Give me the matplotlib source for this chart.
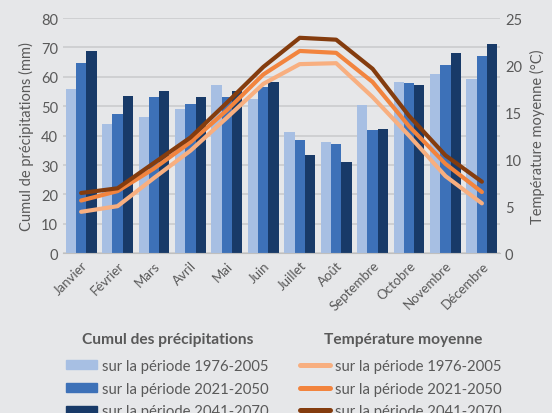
import numpy as np
import matplotlib.pyplot as plt
from matplotlib.patches import Patch
from matplotlib.lines import Line2D

mois = ["Janvier", "Février", "Mars", "Avril", "Mai", "Juin", "Juillet",
        "Août", "Septembre", "Octobre", "Novembre", "Décembre"]

# cumul des précipitations (mm)
precip_1976 = [55.7, 43.8, 46.5, 49.1, 57.3, 52.4, 41.4, 37.8, 50.4, 58.1, 60.9, 59.3]
precip_2021 = [64.7, 47.2, 53.1, 50.6, 53.3, 56.7, 38.5, 37.2, 41.9, 57.8, 63.9, 67.0]
precip_2041 = [68.9, 53.4, 55.3, 53.2, 55.1, 58.4, 33.5, 30.9, 42.2, 57.3, 68.0, 71.3]

# température moyenne (°C)
temp_1976 = [4.4, 5.0, 8.0, 10.9, 14.4, 18.0, 20.1, 20.2, 16.6, 12.5, 8.2, 5.3]
temp_2021 = [5.6, 6.6, 9.0, 11.8, 15.2, 19.0, 21.5, 21.3, 18.2, 13.5, 9.5, 6.5]
temp_2041 = [6.4, 6.9, 9.6, 12.3, 16.0, 19.8, 22.9, 22.7, 19.6, 14.6, 10.4, 7.6]

periodes = ["sur la période 1976-2005", "sur la période 2021-2050", "sur la période 2041-2070"]
bleus = ["#A7BFE3", "#3D71B8", "#183A68"]
oranges = ["#F8AF80", "#F2843E", "#843C0E"]

bg = "#E6E7E9"
gris = "#595959"
plt.rcParams["font.family"] = ["Lato", "DejaVu Sans"]

fig = plt.figure(figsize=(5.52, 4.14), dpi=100, facecolor=bg)
ax = fig.add_axes([0.114, 0.386, 0.792, 0.568])
ax.set_facecolor(bg)

x = np.arange(len(mois))
w = 0.283
for i, vals in enumerate([precip_1976, precip_2021, precip_2041]):
    ax.bar(x + (i - 1) * w, vals, width=w, color=bleus[i], zorder=2)

ax.set_xlim(-0.5, 11.5)
ax.set_ylim(0, 80)
ax.set_yticks(range(0, 81, 10))
ax.grid(axis="y", color="#CBCCCE", linewidth=1.2, zorder=0)
for s in ["top", "right", "left"]:
    ax.spines[s].set_visible(False)
ax.spines["bottom"].set_color("#BFBFBF")
ax.tick_params(length=0, labelsize=10.5, colors=gris)
ax.set_xticks(x)
ax.set_xticklabels(mois, rotation=45, ha="right", rotation_mode="anchor", fontsize=9.5)
ax.tick_params(axis="x", pad=4)
ax.set_ylabel("Cumul de précipitations (mm)", fontsize=10.5, color=gris, labelpad=5)

ax2 = ax.twinx()
for i, vals in enumerate([temp_1976, temp_2021, temp_2041]):
    ax2.plot(x, vals, color=oranges[i], linewidth=3, solid_capstyle="round", zorder=3)
ax2.set_ylim(0, 25)
ax2.set_yticks(range(0, 26, 5))
for s in ax2.spines.values():
    s.set_visible(False)
ax2.tick_params(length=0, labelsize=10.5, colors=gris)
ax2.set_ylabel("Température moyenne (°C)", fontsize=10.5, color=gris, labelpad=6)

# titres des légendes
fig.text(0.3043, 0.179, "Cumul des précipitations", ha="center", va="center",
         fontsize=11.2, fontweight="bold", color=gris)
fig.text(0.731, 0.179, "Température moyenne", ha="center", va="center",
         fontsize=11.2, fontweight="bold", color=gris)

# légendes (la dernière ligne touche le bord, comme dans l'original)
h1 = [Patch(color=c) for c in bleus]
h2 = [Line2D([], [], color=c, linewidth=3.6, solid_capstyle="round") for c in oranges]
leg_opts = dict(loc="upper left", frameon=False, fontsize=10.75, labelcolor=gris,
                borderpad=0, borderaxespad=0, handletextpad=0.3, labelspacing=0.58)
fig.legend(h1, periodes, bbox_to_anchor=(0.1196, 0.130), handlelength=2.08,
           handleheight=0.55, **leg_opts)
fig.legend(h2, periodes, bbox_to_anchor=(0.543, 0.130), handlelength=2.05, **leg_opts)

fig.savefig("out.png", dpi=100, facecolor=bg)
